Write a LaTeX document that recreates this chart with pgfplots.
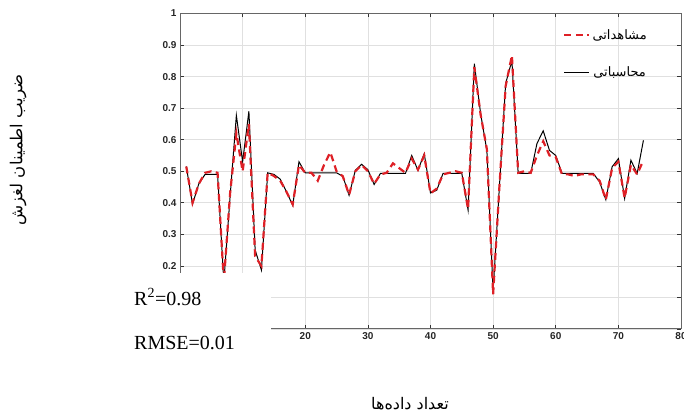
\documentclass[border=0pt]{standalone}
\usepackage{fontspec}
\setmainfont{Liberation Sans}
\newfontfamily\timesfont{Liberation Serif}
\newfontfamily\arabicfont[Script=Arabic]{DejaVu Sans}
\TeXXeTstate=1
\usepackage{pgfplots}
\pgfplotsset{compat=1.18}
\definecolor{obsred}{RGB}{222,32,38}

\pgfplotstableread{
x calc obs
1 0.515 0.515
2 0.396 0.400
3 0.460 0.460
4 0.490 0.495
5 0.490 0.500
6 0.490 0.495
7 0.150 0.150
8 0.420 0.430
9 0.677 0.620
10 0.530 0.500
11 0.690 0.650
12 0.250 0.230
13 0.187 0.200
14 0.495 0.495
15 0.490 0.485
16 0.475 0.470
17 0.435 0.435
18 0.392 0.395
19 0.530 0.520
20 0.495 0.495
21 0.495 0.495
22 0.495 0.470
23 0.495 0.520
24 0.495 0.560
25 0.495 0.500
26 0.484 0.484
27 0.424 0.425
28 0.503 0.500
29 0.522 0.520
30 0.505 0.500
31 0.458 0.460
32 0.493 0.490
33 0.493 0.495
34 0.493 0.525
35 0.493 0.510
36 0.493 0.495
37 0.550 0.540
38 0.503 0.505
39 0.556 0.550
40 0.431 0.430
41 0.440 0.445
42 0.493 0.490
43 0.493 0.495
44 0.493 0.500
45 0.493 0.495
46 0.377 0.380
47 0.841 0.830
48 0.683 0.680
49 0.566 0.570
50 0.122 0.110
51 0.450 0.450
52 0.778 0.770
53 0.851 0.867
54 0.493 0.495
55 0.493 0.500
56 0.493 0.495
57 0.588 0.550
58 0.628 0.595
59 0.566 0.550
60 0.550 0.545
61 0.493 0.490
62 0.493 0.490
63 0.493 0.485
64 0.493 0.490
65 0.493 0.490
66 0.493 0.490
67 0.466 0.470
68 0.410 0.410
69 0.514 0.510
70 0.540 0.530
71 0.414 0.415
72 0.535 0.520
73 0.493 0.490
74 0.598 0.535
}\datatable

\begin{document}
\begin{tikzpicture}
\useasboundingbox (0pt,0pt) rectangle (684pt,419pt);
\begin{axis}[
  at={(180pt,90pt)}, anchor=south west,
  scale only axis, width=501pt, height=315.5pt,
  xmin=0, xmax=80, ymin=0, ymax=1,
  xtick={0,10,20,30,40,50,60,70,80},
  ytick={0,0.1,0.2,0.3,0.4,0.5,0.6,0.7,0.8,0.9,1},
  yticklabels={,,0.2,0.3,0.4,0.5,0.6,0.7,0.8,0.9,1},
  xticklabels={,,20,30,40,50,60,70,80},
  tick label style={font=\bfseries\fontsize{10}{12}\selectfont, text=black!85},
  /pgf/number format/assume math mode=true,
  tick align=inside, tick pos=both, major tick length=4pt,
  tick style={black!80, line width=0.6pt},
  grid=major, major grid style={black!12, line width=0.6pt},
  axis line style={black!60, line width=1pt},
  reverse legend,
  legend style={draw=none, fill=none, at={(axis description cs:1,1)}, anchor=north east,
    xshift=-29pt, yshift=-12pt, row sep=22pt,
    font=\arabicfont\fontsize{13}{15}\selectfont},
  legend image code/.code={\draw[#1] (0pt,0pt) -- (25pt,0pt);},
]
\addplot[black, line width=1pt] table[x=x, y=calc] {\datatable};
\addlegendentry{\beginR محاسباتی\endR}
\addplot[obsred, line width=2.2pt, dash pattern=on 7pt off 4.5pt] table[x=x, y=obs] {\datatable};
\addlegendentry{\beginR مشاهداتی\endR}
\end{axis}
\fill[white] (0pt,45pt) rectangle (271pt,146pt);
\node[font=\timesfont\fontsize{20}{24}\selectfont, anchor=west, inner sep=0pt] at (134pt,122pt) {R\textsuperscript{2}=0.98};
\node[font=\timesfont\fontsize{20}{24}\selectfont, anchor=west, inner sep=0pt] at (134pt,76pt) {RMSE=0.01};
\node[font=\arabicfont\fontsize{16}{19}\selectfont] at (410pt,15pt) {\beginR تعداد داده‌ها\endR};
\node[font=\arabicfont\fontsize{16.5}{19}\selectfont, rotate=90] at (18pt,269pt) {\beginR ضریب اطمینان لغزش\endR};
\end{tikzpicture}
\end{document}
